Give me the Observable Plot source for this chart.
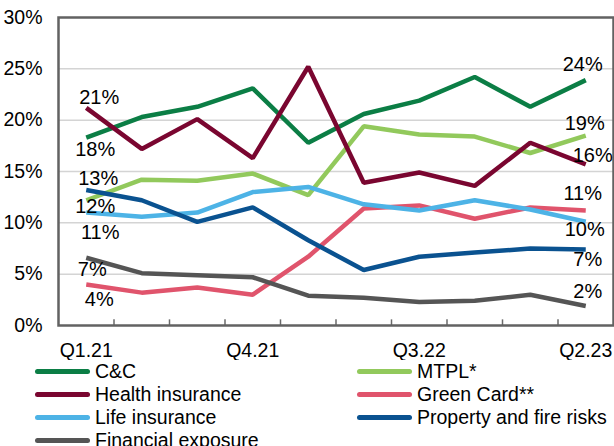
<!DOCTYPE html>
<html>
<head>
<meta charset="utf-8">
<script src="https://cdn.jsdelivr.net/npm/d3@7"></script>
<script src="https://cdn.jsdelivr.net/npm/@observablehq/plot@0.6"></script>
<style>
  html, body { margin: 0; padding: 0; background: #fff; }
  body { width: 614px; height: 446px; overflow: hidden; font-family: "Liberation Sans", Arial, sans-serif; }
  #legend { position: relative; width: 614px; height: 86px; font-size: 19.5px; color: #000; }
  .item { position: absolute; height: 23px; display: flex; align-items: center; white-space: nowrap; }
  .sw { width: 55px; height: 5px; border-radius: 3px; margin-right: 5px; }
</style>
</head>
<body>
<div id="chart"></div>
<div id="legend"></div>
<script>
const quarters = ["Q1.21","Q2.21","Q3.21","Q4.21","Q1.22","Q2.22","Q3.22","Q4.22","Q1.23","Q2.23"];
const tickQuarters = ["Q1.21","Q4.21","Q3.22","Q2.23"];
const seriesNames = ["C&C","MTPL*","Health insurance","Green Card**","Life insurance","Property and fire risks","Financial exposure"];
const seriesColors = ["#0b7e45","#92c95c","#7a0630","#e0546c","#4db3e6","#0a5290","#555555"];

const cc        = [18.3, 20.3, 21.3, 23.1, 17.8, 20.6, 21.9, 24.2, 21.3, 23.9];
const mtpl      = [12.2, 14.2, 14.1, 14.8, 12.7, 19.4, 18.6, 18.4, 16.8, 18.5];
const health    = [21.2, 17.2, 20.1, 16.3, 25.2, 13.9, 14.9, 13.6, 17.8, 15.7];
const greenCard = [4.0, 3.2, 3.7, 3.0, 6.7, 11.4, 11.7, 10.4, 11.5, 11.2];
const life      = [11.0, 10.6, 11.0, 13.0, 13.5, 11.8, 11.2, 12.2, 11.3, 10.1];
const property  = [13.2, 12.2, 10.1, 11.5, 8.3, 5.4, 6.7, 7.1, 7.5, 7.4];
const financial = [6.6, 5.1, 4.9, 4.7, 2.9, 2.7, 2.3, 2.4, 3.0, 1.9];
const yTicks = [0, 5, 10, 15, 20, 25, 30];

const seriesValues = [cc, mtpl, health, greenCard, life, property, financial];

// long table
const rows = [];
seriesNames.forEach((name, s) => {
  seriesValues[s].forEach((v, i) => rows.push({series: name, i, q: quarters[i], v}));
});

// label placement (offsets in pixels) for first/last points
const labelOffsets = [
  // [series index, point index, dx, dy]
  [2, 0, 13, -10], [0, 0, 9, 12], [5, 0, 12, -11], [1, 0, 9, 6],
  [4, 0, 14, 20], [6, 0, 6, 12], [3, 0, 13, 15],
  [0, 9, -3, -16], [1, 9, -1, -12], [2, 9, 7, -9], [3, 9, -3, -17],
  [4, 9, -1, 8], [5, 9, 2, 10], [6, 9, 2, -14]
];

const labelMarks = labelOffsets.map(([s, i, dx, dy]) =>
  Plot.text([{i, v: seriesValues[s][i]}], {
    x: "i", y: "v",
    text: d => Math.round(d.v) + "%",
    dx, dy,
    fontSize: 20,
    fill: "#000",
    textAnchor: "middle"
  })
);

const boundaries = d3.range(0.5, quarters.length - 1, 1);

const chart = Plot.plot({
  width: 614,
  height: 360,
  marginLeft: 58,
  marginRight: 1,
  marginTop: 17,
  marginBottom: 35,
  style: {fontFamily: "'Liberation Sans', Arial, sans-serif", fontSize: "19px", color: "#000", background: "#fff"},
  x: {type: "linear", domain: [-0.5, quarters.length - 0.5], axis: null},
  y: {domain: [0, 30], axis: null},
  color: {domain: seriesNames, range: seriesColors},
  marks: [
    Plot.gridY(yTicks.filter(t => t > 0 && t < 30), {stroke: "#d4d4d4", strokeOpacity: 1, strokeWidth: 1.5}),
    Plot.ruleX(boundaries, {x: d => d, y1: 0, y2: 0.55, stroke: "#6a6a6a", strokeWidth: 1.5}),
    Plot.line(rows, {x: "i", y: "v", z: "series", stroke: "series", strokeWidth: 4.5, strokeLinejoin: "miter", strokeLinecap: "butt"}),
    Plot.frame({stroke: "#626262", strokeWidth: 2.5}),
    Plot.axisY({ticks: yTicks, tickSize: 0, tickPadding: 16, tickFormat: d => d + "%", fontSize: 19.5, fill: "#000", label: null}),
    Plot.axisX({ticks: tickQuarters.map(q => quarters.indexOf(q)), tickSize: 0, tickPadding: 18, tickFormat: i => quarters[i], fontSize: 19.5, fill: "#000", label: null}),
    ...labelMarks
  ]
});
document.getElementById("chart").appendChild(chart);

// legend
const legend = document.getElementById("legend");
const legendLayout = [[0, 0, 0], [1, 1, 0], [2, 0, 1], [3, 1, 1], [4, 0, 2], [5, 1, 2], [6, 0, 3]];
const colLeft = [35, 357];
legendLayout.forEach(([s, col, row]) => {
  const el = document.createElement("div");
  el.className = "item";
  el.style.left = colLeft[col] + "px";
  el.style.top = (row * 23) + "px";
  const sw = document.createElement("span");
  sw.className = "sw";
  sw.style.background = seriesColors[s];
  const tx = document.createElement("span");
  tx.textContent = seriesNames[s];
  el.appendChild(sw);
  el.appendChild(tx);
  legend.appendChild(el);
});
</script>
</body>
</html>
